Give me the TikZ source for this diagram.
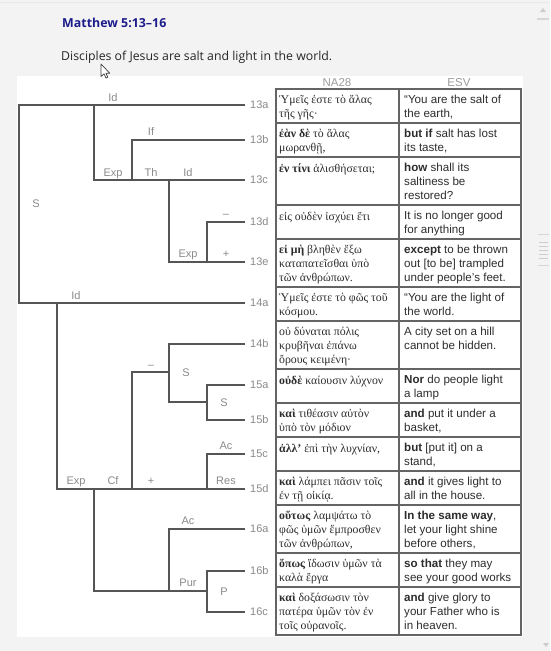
\documentclass[tikz,border=0pt]{standalone}
\usepackage{fontspec}
\setmainfont{Liberation Sans}
\newfontfamily\greekfont{Liberation Serif}
\newfontfamily\headfont{Open Sans}
\usetikzlibrary{positioning}
\definecolor{pagebg}{RGB}{243,243,243}
\definecolor{titleblue}{RGB}{28,28,140}
\definecolor{branchgray}{RGB}{85,85,85}
\definecolor{labelgray}{RGB}{138,138,138}
\definecolor{rulegray}{RGB}{100,100,100}
\definecolor{textgray}{RGB}{45,45,45}
\definecolor{scrollgray}{RGB}{205,205,205}

\begin{document}
\begin{tikzpicture}[
  x=1pt, y=-1pt,
  verse/.style={anchor=west, inner xsep=5pt, inner ysep=1pt, text=labelgray,
    font=\fontsize{11}{13}\selectfont},
  rel/.style={anchor=base, inner sep=0pt, text=labelgray,
    font=\fontsize{11}{13}\selectfont},
  branch/.style={draw=branchgray, line width=1.7pt},
  rowrule/.style={draw=rulegray, line width=1.2pt},
  cell/.style={anchor=north west, inner sep=0pt, align=left, text=textgray,
    execute at begin node={\strut}},
  greek/.style={cell, font=\greekfont\fontsize{11.8}{14}\selectfont},
  esv/.style={cell, font=\fontsize{11.6}{14}\selectfont},
  colhead/.style={anchor=base, inner sep=0pt, text=labelgray!85,
    font=\fontsize{11.5}{13}\selectfont}
]
\useasboundingbox (0,0) rectangle (550,651);

% page and panel
\fill[pagebg] (0,0) rectangle (550,651);
\draw[gray!18, line width=1pt] (0,2.5) -- (550,2.5);
\fill[white] (17,76) rectangle (523,637);

% scroll bar
\fill[scrollgray] (540,12) -- (546,12) -- (543,8) -- cycle;
\draw[scrollgray!80, line width=1.5pt] (537,19) -- (549,19);
\draw[scrollgray!80, line width=0.8pt] (538,234) -- (549,234) (538,265) -- (549,265);
\foreach \gy in {242,246,250,254,258}
  \draw[scrollgray, line width=1pt] (539,\gy) -- (548,\gy);
\fill[scrollgray] (543,643) -- (549,643) -- (546,647) -- cycle;

% heading
\node[anchor=base west, inner sep=0pt, text=titleblue,
  font=\headfont\bfseries\fontsize{12.4}{15}\selectfont] (title) at (62,27.5) {Matthew 5:13–16};
\node[anchor=base west, inner sep=0pt, text=black!85,
  font=\headfont\fontsize{12.3}{15}\selectfont] (subtitle) at (61,60.5)
  {Disciples of Jesus are salt and light in the world.};

% verse numbers
\node[verse] (v13a) at (245,105) {13a};
\node[verse] (v13b) at (245,140) {13b};
\node[verse] (v13c) at (245,180) {13c};
\node[verse] (v13d) at (245,222) {13d};
\node[verse] (v13e) at (245,262) {13e};
\node[verse] (v14a) at (245,303) {14a};
\node[verse] (v14b) at (245,344) {14b};
\node[verse] (v15a) at (245,385) {15a};
\node[verse] (v15b) at (245,420) {15b};
\node[verse] (v15c) at (245,454) {15c};
\node[verse] (v15d) at (245,489) {15d};
\node[verse] (v16a) at (245,529) {16a};
\node[verse] (v16b) at (245,571) {16b};
\node[verse] (v16c) at (245,612) {16c};

% junctions of the tree
\coordinate (jS) at (19,203);
\coordinate (jA) at (94,105);
\coordinate (jB) at (132,180);
\coordinate (jC) at (169,180);
\coordinate (jD) at (207,262);
\coordinate (jE) at (57,303);
\coordinate (jF) at (132,489);
\coordinate (jG) at (169,372);
\coordinate (jH) at (169,402);
\coordinate (jI) at (207,402);
\coordinate (jJ) at (207,489);
\coordinate (jK) at (94,489);
\coordinate (jL) at (207,591);
\coordinate (jM) at (169,591);

\draw[branch] (v13a.west) -| (jS) |- (v14a.west);
\draw[branch] (v13c.west) -| (jA);
\draw[branch] (v13b.west) -| (jB);
\draw[branch] (v13e.west) -| (jC);
\draw[branch] (v13d.west) -| (jD);
\draw[branch] (v15d.west) -| (jE);
\draw[branch] (jF) |- (jG);
\draw[branch] (v14b.west) -| (jH) -- (jI);
\draw[branch] (v15a.west) -| (jI) |- (v15b.west);
\draw[branch] (v15c.west) -| (jJ);
\draw[branch] (jK) |- (jL);
\draw[branch] (v16b.west) -| (jL) |- (v16c.west);
\draw[branch] (v16a.west) -| (jM);

% relation labels
\node[rel] (id13a) at (113,101) {Id};
\node[rel] (if13b) at (151,135) {If};
\node[rel] (exp13c) at (113,176) {Exp};
\node[rel] (th13c) at (151,176) {Th};
\node[rel] (id13c) at (188,176) {Id};
\node[rel] (s13) at (36,207) {S};
\node[rel] (neg13d) at (226,217) {–};
\node[rel] (exp13e) at (188,257) {Exp};
\node[rel] (pos13e) at (226,257) {+};
\node[rel] (id14a) at (76,299) {Id};
\node[rel] (neg14b) at (151,368) {–};
\node[rel] (s14b) at (186,376) {S};
\node[rel] (s15a) at (224,406) {S};
\node[rel] (ac15c) at (226,449) {Ac};
\node[rel] (exp15d) at (76,484) {Exp};
\node[rel] (cf15d) at (113,484) {Cf};
\node[rel] (pos15d) at (151,484) {+};
\node[rel] (res15d) at (226,484) {Res};
\node[rel] (ac16a) at (188,524) {Ac};
\node[rel] (pur16b) at (188,586) {Pur};
\node[rel] (p16b) at (224,595) {P};

% table
\node[colhead] (na28) at (337,86) {NA28};
\node[colhead] (esv) at (459,86) {ESV};
\draw[rowrule] (276,89) rectangle (521,635);
\draw[rowrule] (399,89) -- (399,635)
  (276,123) -- (521,123) (276,157) -- (521,157) (276,205) -- (521,205)
  (276,239) -- (521,239) (276,287) -- (521,287) (276,321) -- (521,321)
  (276,369) -- (521,369) (276,403) -- (521,403) (276,437) -- (521,437)
  (276,471) -- (521,471) (276,505) -- (521,505) (276,553) -- (521,553)
  (276,587) -- (521,587);

\node[greek] (g13a) at (279,94.5) {Ὑμεῖς ἐστε τὸ ἅλας\\τῆς γῆς·};
\node[greek] (g13b) at (279,128.5) {\textbf{ἐὰν δὲ} τὸ ἅλας\\μωρανθῇ,};
\node[greek] (g13c) at (279,162.5) {\textbf{ἐν τίνι} ἁλισθήσεται;};
\node[greek] (g13d) at (279,210.5) {εἰς οὐδὲν ἰσχύει ἔτι};
\node[greek] (g13e) at (279,244.5) {\textbf{εἰ μὴ} βληθὲν ἔξω\\καταπατεῖσθαι ὑπὸ\\τῶν ἀνθρώπων.};
\node[greek] (g14a) at (279,292.5) {Ὑμεῖς ἐστε τὸ φῶς τοῦ\\κόσμου.};
\node[greek] (g14b) at (279,326.5) {οὐ δύναται πόλις\\κρυβῆναι ἐπάνω\\ὄρους κειμένη·};
\node[greek] (g15a) at (279,374.5) {\textbf{οὐδὲ} καίουσιν λύχνον};
\node[greek] (g15b) at (279,408.5) {\textbf{καὶ} τιθέασιν αὐτὸν\\ὑπὸ τὸν μόδιον};
\node[greek] (g15c) at (279,442.5) {\textbf{ἀλλ’} ἐπὶ τὴν λυχνίαν,};
\node[greek] (g15d) at (279,476.5) {\textbf{καὶ} λάμπει πᾶσιν τοῖς\\ἐν τῇ οἰκίᾳ.};
\node[greek] (g16a) at (279,510.5) {\textbf{οὕτως} λαμψάτω τὸ\\φῶς ὑμῶν ἔμπροσθεν\\τῶν ἀνθρώπων,};
\node[greek] (g16b) at (279,558.5) {\textbf{ὅπως} ἴδωσιν ὑμῶν τὰ\\καλὰ ἔργα};
\node[greek] (g16c) at (279,592.5) {\textbf{καὶ} δοξάσωσιν τὸν\\πατέρα ὑμῶν τὸν ἐν\\τοῖς οὐρανοῖς.};

\node[esv] (e13a) at (404,94.5) {“You are the salt of\\the earth,};
\node[esv] (e13b) at (404,128.5) {\textbf{but if} salt has lost\\its taste,};
\node[esv] (e13c) at (404,162.5) {\textbf{how} shall its\\saltiness be\\restored?};
\node[esv] (e13d) at (404,210.5) {It is no longer good\\for anything};
\node[esv] (e13e) at (404,244.5) {\textbf{except} to be thrown\\out [to be] trampled\\under people’s feet.};
\node[esv] (e14a) at (404,292.5) {“You are the light of\\the world.};
\node[esv] (e14b) at (404,326.5) {A city set on a hill\\cannot be hidden.};
\node[esv] (e15a) at (404,374.5) {\textbf{Nor} do people light\\a lamp};
\node[esv] (e15b) at (404,408.5) {\textbf{and} put it under a\\basket,};
\node[esv] (e15c) at (404,442.5) {\textbf{but} [put it] on a\\stand,};
\node[esv] (e15d) at (404,476.5) {\textbf{and} it gives light to\\all in the house.};
\node[esv] (e16a) at (404,510.5) {\textbf{In the same way},\\let your light shine\\before others,};
\node[esv] (e16b) at (404,558.5) {\textbf{so that} they may\\see your good works};
\node[esv] (e16c) at (404,592.5) {\textbf{and} give glory to\\your Father who is\\in heaven.};

% mouse pointer
\filldraw[fill=white, draw=black!75, line width=0.7pt, line join=round]
  (101,64) -- (101,76.5) -- (104,73.8) -- (106,78) -- (107.8,77.2)
  -- (105.9,73.2) -- (109.8,73.2) -- cycle;
\end{tikzpicture}
\end{document}
